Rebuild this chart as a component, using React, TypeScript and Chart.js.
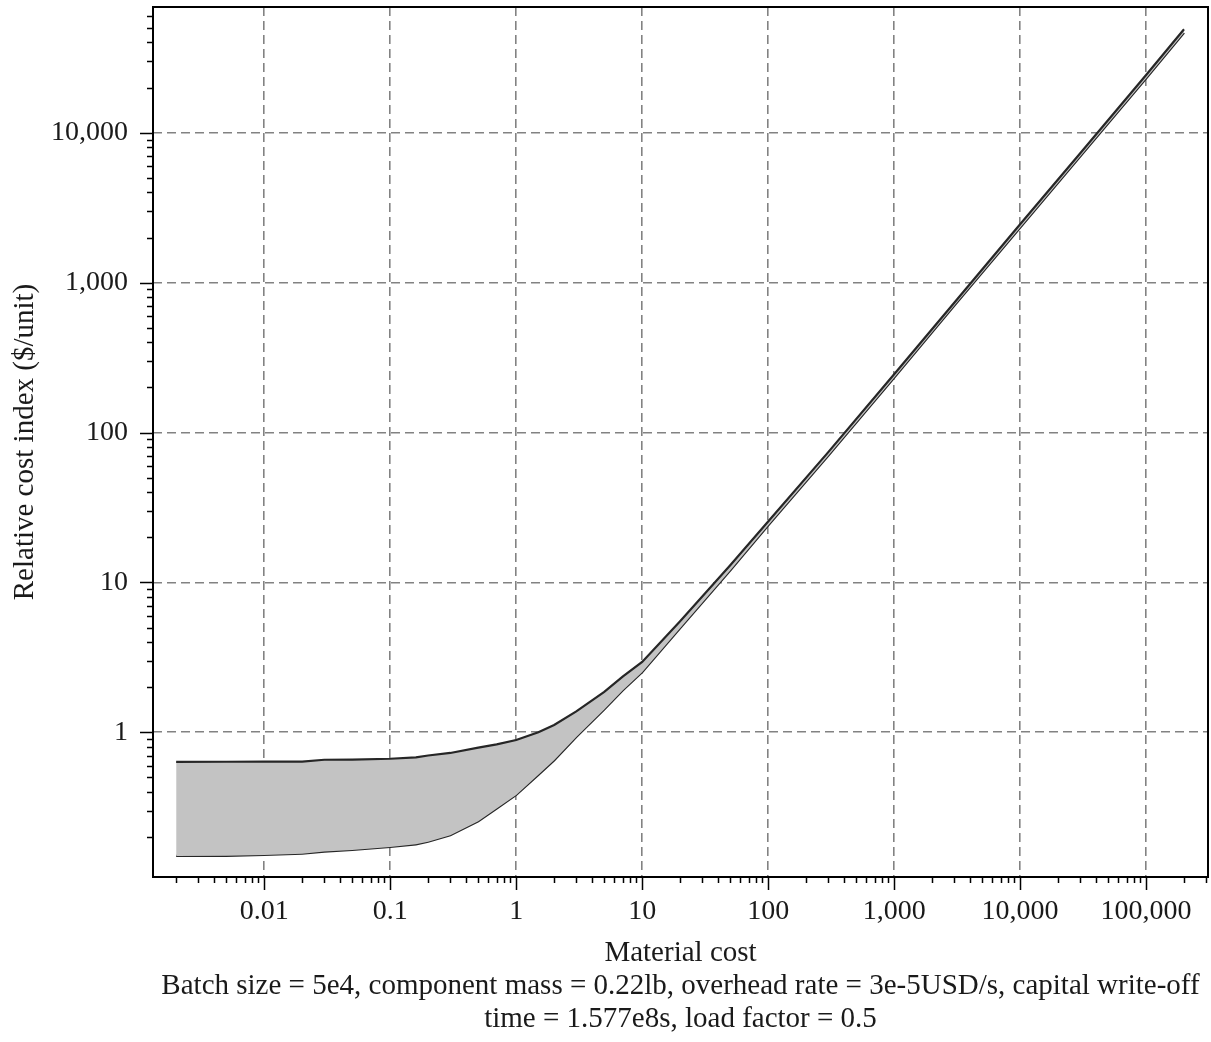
import React, { useEffect, useRef } from "react";
import { Chart, registerables } from "chart.js";

Chart.register(...registerables);

// Material cost (x) sample points
const materialCost = [
  0.002, 0.005, 0.01, 0.02, 0.03, 0.05, 0.1, 0.16, 0.2, 0.3, 0.5, 0.7, 1, 1.5,
  2, 3, 5, 7, 10, 20, 50, 100, 300, 1000, 3000, 10000, 30000, 100000, 200000,
];
// Upper bound of relative cost index
const upperCost = [
  0.635, 0.636, 0.637, 0.638, 0.656, 0.658, 0.666, 0.68, 0.7, 0.728, 0.79,
  0.83, 0.888, 1.0, 1.12, 1.38, 1.86, 2.35, 2.95, 5.5, 13, 25.5, 74, 245, 735,
  2450, 7300, 24300, 49000,
];
// Lower bound of relative cost index
const lowerCost = [
  0.1496, 0.15, 0.152, 0.155, 0.16, 0.164, 0.172, 0.179, 0.186, 0.206, 0.255,
  0.31, 0.382, 0.52, 0.65, 0.93, 1.42, 1.9, 2.52, 4.95, 12, 24, 70, 232, 700,
  2320, 6950, 23000, 46500,
];

const xMajorTicks = [0.01, 0.1, 1, 10, 100, 1000, 10000, 100000];
const xTickLabels = ["0.01", "0.1", "1", "10", "100", "1,000", "10,000", "100,000"];
const yMajorTicks = [1, 10, 100, 1000, 10000];
const yTickLabels = ["1", "10", "100", "1,000", "10,000"];

const X_MIN = 0.00131;
const X_MAX = 310000;
const Y_MIN = 0.1083;
const Y_MAX = 69000;

const xTitle = [
  "Material cost",
  "Batch size = 5e4, component mass = 0.22lb, overhead rate = 3e-5USD/s, capital write-off",
  "time = 1.577e8s, load factor = 0.5",
];
const yTitle = "Relative cost index ($/unit)";

const FONT = "'Liberation Serif', 'DejaVu Serif', serif";

const framePlugin = {
  id: "frameAndTicks",
  afterDraw(chart: any) {
    const { ctx, chartArea } = chart;
    const xs = chart.scales.x;
    const ys = chart.scales.y;
    ctx.save();
    ctx.strokeStyle = "#000";
    ctx.lineWidth = 2;
    ctx.strokeRect(chartArea.left, chartArea.top, chartArea.right - chartArea.left, chartArea.bottom - chartArea.top);
    ctx.lineWidth = 1.5;
    ctx.beginPath();
    for (let k = -4; k <= 6; k++) {
      for (let m = 1; m <= 9; m++) {
        const v = m * Math.pow(10, k);
        const len = m === 1 ? 13 : 6;
        if (v >= xs.min && v <= xs.max) {
          const px = Math.round(xs.getPixelForValue(v)) + 0.5;
          ctx.moveTo(px, chartArea.bottom);
          ctx.lineTo(px, chartArea.bottom + len);
        }
        if (v >= ys.min && v <= ys.max) {
          const py = Math.round(ys.getPixelForValue(v)) + 0.5;
          ctx.moveTo(chartArea.left, py);
          ctx.lineTo(chartArea.left - len, py);
        }
      }
    }
    ctx.stroke();
    ctx.restore();
  },
};

export default function App() {
  const ref = useRef<HTMLCanvasElement | null>(null);
  useEffect(() => {
    document.body.style.margin = "0";
    if (!ref.current) return;
    const data = materialCost.map((x, i) => ({ x, y: upperCost[i] }));
    const data2 = materialCost.map((x, i) => ({ x, y: lowerCost[i] }));
    const chart = new Chart(ref.current, {
      type: "line",
      data: {
        datasets: [
          {
            data,
            borderColor: "#262626",
            borderWidth: 2.2,
            pointRadius: 0,
            tension: 0,
            fill: "+1",
            backgroundColor: "#c3c3c3",
          },
          {
            data: data2,
            borderColor: "#262626",
            borderWidth: 2.2,
            pointRadius: 0,
            tension: 0,
            fill: false,
          },
        ],
      },
      options: {
        animation: false,
        responsive: false,
        maintainAspectRatio: false,
        layout: { padding: { top: 7, right: 3, left: 0, bottom: 0 } },
        plugins: { legend: { display: false }, tooltip: { enabled: false } },
        scales: {
          x: {
            type: "logarithmic",
            min: X_MIN,
            max: X_MAX,
            afterBuildTicks: (s: any) => {
              s.ticks = xMajorTicks.map((v) => ({ value: v }));
            },
            afterFit: (s: any) => {
              s.height = 165;
              s.paddingLeft = 0;
              s.paddingRight = 0;
            },
            grid: { color: "#828282", lineWidth: 1.6, drawTicks: false },
            border: { display: false, dash: [9, 5] },
            ticks: {
              autoSkip: false,
              maxRotation: 0,
              padding: 18,
              color: "#1a1a1a",
              font: { family: FONT, size: 28 },
              callback: (v: any) => {
                const i = xMajorTicks.indexOf(Number(v));
                return i >= 0 ? xTickLabels[i] : "";
              },
            },
            title: {
              display: true,
              text: xTitle,
              color: "#1a1a1a",
              font: { family: FONT, size: 29, lineHeight: "33px" as any },
              padding: { top: 4, bottom: 6 },
            },
          },
          y: {
            type: "logarithmic",
            min: Y_MIN,
            max: Y_MAX,
            afterBuildTicks: (s: any) => {
              s.ticks = yMajorTicks.map((v) => ({ value: v }));
            },
            afterFit: (s: any) => {
              s.width = 153;
              s.paddingTop = 0;
              s.paddingBottom = 0;
            },
            grid: { color: "#828282", lineWidth: 1.6, drawTicks: false },
            border: { display: false, dash: [9, 5] },
            ticks: {
              autoSkip: false,
              padding: 25,
              color: "#1a1a1a",
              font: { family: FONT, size: 28 },
              callback: (v: any) => {
                const i = yMajorTicks.indexOf(Number(v));
                return i >= 0 ? yTickLabels[i] : "";
              },
            },
            title: {
              display: true,
              text: yTitle,
              color: "#1a1a1a",
              font: { family: FONT, size: 29, lineHeight: 1.2 },
              padding: { top: 8, bottom: 4 },
            },
          },
        },
      },
      plugins: [framePlugin],
    } as any);
    return () => chart.destroy();
  }, []);
  return (
    <div style={{ width: 1211, height: 1042, background: "#fff" }}>
      <canvas ref={ref} width={1211} height={1042} style={{ display: "block" }} />
    </div>
  );
}
